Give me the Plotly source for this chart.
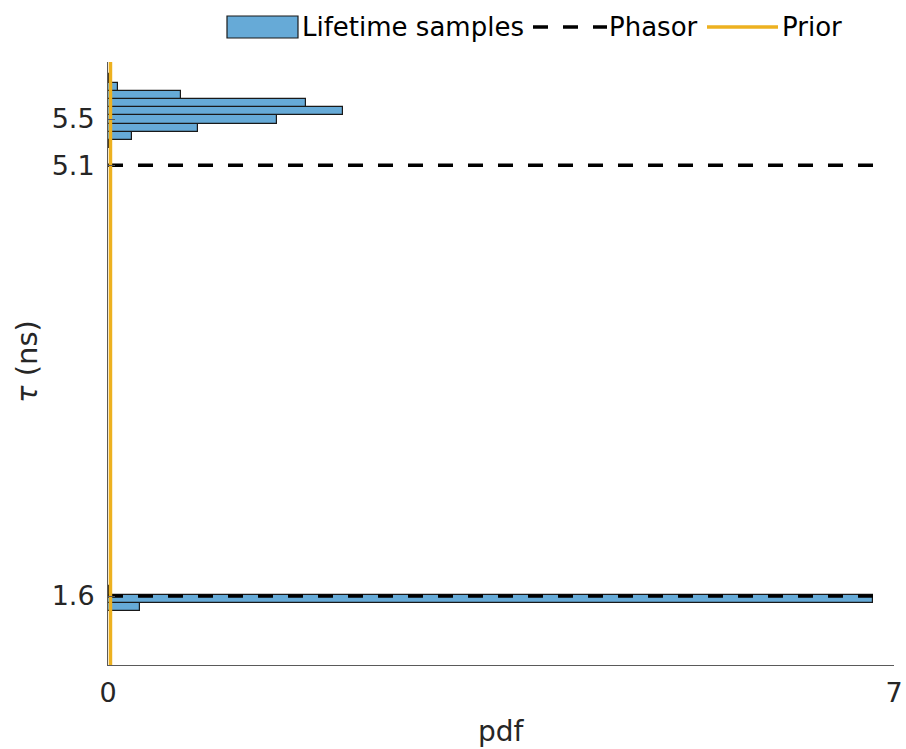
import plotly.graph_objects as go

# ---- data -------------------------------------------------------------
BIN_WIDTH = 0.068  # ns, histogram bin width

# histogram of posterior lifetime samples (bin centres, ns) and their pdf
tau_bin_centres = [1.482, 1.550, 1.618,
                   5.319, 5.387, 5.455, 5.523, 5.591, 5.659, 5.727, 5.795, 5.863]
tau_pdf = [0.285, 6.815, 0.012,
           0.012, 0.211, 0.799, 1.508, 2.093, 1.761, 0.650, 0.092, 0.012]

# phasor lifetime estimates (ns) and the pdf span of their marker lines
phasor_tau = [5.143, 1.572]
phasor_pdf_span = [0.0, 6.86]

# flat prior density over the lifetime range
prior_tau = [1.0, 6.0]
prior_pdf = [0.022, 0.022]

# axis settings
x_range = [0, 7]
y_range = [1.0, 6.0]
x_tickvals = [0, 7]
y_tickvals = [1.572, 5.143, 5.527]
y_ticktext = ["1.6", "5.1", "5.5"]

# ---- styling ----------------------------------------------------------
FONT = "DejaVu Sans"
BAR_FILL = "rgb(102,170,215)"
BAR_EDGE = "rgb(25,25,25)"
PRIOR_COLOR = "#EDB120"
AXIS_COLOR = "rgb(90,90,90)"
TEXT_COLOR = "rgb(38,38,38)"

W, H = 906, 749
ML, MR, MT, MB = 108, 12, 62, 84
PLOT_W = W - ML - MR
PLOT_H = H - MT - MB


def px(x):
    """pixel x -> paper x"""
    return (x - ML) / PLOT_W


def py(y):
    """pixel y -> paper y"""
    return (H - MB - y) / PLOT_H


fig = go.Figure()

fig.add_trace(go.Bar(
    y=tau_bin_centres, x=tau_pdf, orientation="h", width=BIN_WIDTH,
    marker=dict(color=BAR_FILL, line=dict(color=BAR_EDGE, width=1.2)),
    name="Lifetime samples", showlegend=False,
))

for t in phasor_tau:
    fig.add_trace(go.Scatter(
        x=phasor_pdf_span, y=[t, t], mode="lines",
        line=dict(color="black", width=3.5, dash="15px,15px"),
        name="Phasor", showlegend=False, hoverinfo="skip",
    ))

fig.add_trace(go.Scatter(
    x=prior_pdf, y=prior_tau, mode="lines",
    line=dict(color=PRIOR_COLOR, width=3.5),
    name="Prior", showlegend=False,
))

# ---- legend row drawn across the top --------------------------------
shapes = [
    dict(type="rect", xref="paper", yref="paper",
         x0=px(227), x1=px(298), y0=py(38), y1=py(16),
         fillcolor=BAR_FILL, line=dict(color=BAR_EDGE, width=1.2)),
    dict(type="line", xref="paper", yref="paper",
         x0=px(533), x1=px(607), y0=py(27), y1=py(27),
         line=dict(color="black", width=3.5, dash="15px,15px")),
    dict(type="line", xref="paper", yref="paper",
         x0=px(707), x1=px(778), y0=py(27), y1=py(27),
         line=dict(color=PRIOR_COLOR, width=3.5)),
]
legend_labels = [("Lifetime samples", 300), ("Phasor", 607), ("Prior", 780)]
annotations = [
    dict(text=txt, xref="paper", yref="paper", x=px(x0), y=py(27),
         xanchor="left", yanchor="middle", showarrow=False,
         font=dict(family=FONT, size=26, color="black"))
    for txt, x0 in legend_labels
]

# axis titles
annotations += [
    dict(text="pdf", xref="paper", yref="paper", x=0.5, y=py(731),
         xanchor="center", yanchor="middle", showarrow=False,
         font=dict(family=FONT, size=28, color=TEXT_COLOR)),
    dict(text="<i>τ</i> (ns)", xref="paper", yref="paper", x=px(27), y=py(362),
         xanchor="center", yanchor="middle", showarrow=False, textangle=-90,
         font=dict(family=FONT, size=29, color=TEXT_COLOR)),
]

fig.update_layout(
    width=W, height=H,
    margin=dict(l=ML, r=MR, t=MT, b=MB, pad=0),
    paper_bgcolor="white", plot_bgcolor="white",
    showlegend=False, bargap=0,
    font=dict(family=FONT, color=TEXT_COLOR),
    shapes=shapes, annotations=annotations,
    xaxis=dict(
        range=x_range, tickvals=x_tickvals, ticks="inside", ticklen=7,
        tickcolor=AXIS_COLOR, showline=True, linecolor=AXIS_COLOR,
        linewidth=1, showgrid=False, zeroline=False, automargin=False,
        tickfont=dict(family=FONT, size=27, color=TEXT_COLOR),
        ticklabelstandoff=4,
        fixedrange=True,
    ),
    yaxis=dict(
        range=y_range, tickvals=y_tickvals, ticktext=y_ticktext,
        ticks="inside", ticklen=7, tickcolor=AXIS_COLOR,
        showline=True, linecolor=AXIS_COLOR, linewidth=1,
        showgrid=False, zeroline=False, automargin=False,
        tickfont=dict(family=FONT, size=27, color=TEXT_COLOR),
        ticklabelstandoff=7,
        fixedrange=True,
    ),
)

fig.write_html("out.html")
